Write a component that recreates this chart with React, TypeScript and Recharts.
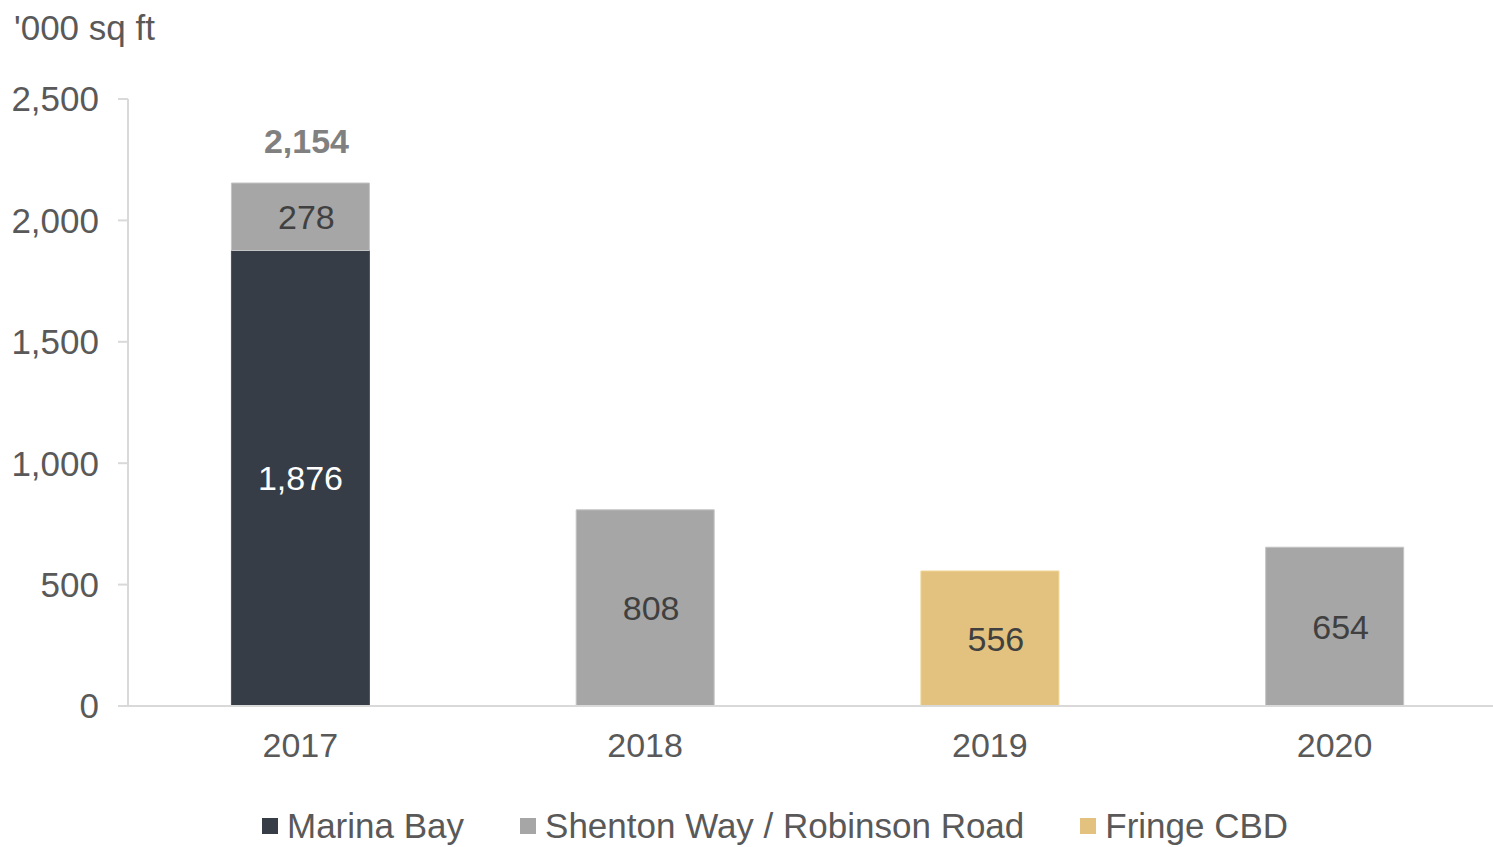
import React from 'react';
import { BarChart, Bar, XAxis, YAxis, Legend, LabelList } from 'recharts';

const years = ['2017', '2018', '2019', '2020'];
const marinaBay = [1876, null, null, null];
const shentonRobinson = [278, 808, null, 654];
const fringeCBD = [null, null, 556, null];
const totals = [2154, null, null, null];
const yTicks = [0, 500, 1000, 1500, 2000, 2500];
const seriesNames = ['Marina Bay', 'Shenton Way / Robinson Road', 'Fringe CBD'];

const FONT = '"Liberation Sans", Arial, sans-serif';

const data = years.map((y, i) => ({
  year: y,
  marina: marinaBay[i],
  shenton: shentonRobinson[i],
  fringe: fringeCBD[i],
  total: totals[i],
}));

const fmt = (v: any) => (v === null || v === undefined ? '' : Number(v).toLocaleString('en-US'));

const LegendContent = (props: any) => {
  const payload = [...(props.payload || [])].sort(
    (a: any, b: any) => seriesNames.indexOf(a.value) - seriesNames.indexOf(b.value)
  );
  return (
    <div style={{ display: 'flex', alignItems: 'center', fontFamily: FONT, fontSize: 35, color: '#595959', height: 40, whiteSpace: 'nowrap' }}>
      {payload.map((p: any, i: number) => (
        <div key={i} style={{ display: 'flex', alignItems: 'center', marginRight: 56 }}>
          <span style={{ display: 'inline-block', width: 16, height: 16, background: p.color, marginRight: 9 }} />
          <span>{p.value}</span>
        </div>
      ))}
    </div>
  );
};

export default function App() {
  return (
    <div style={{ position: 'absolute', left: 0, top: 0, width: 1493, height: 847, overflow: 'hidden', background: '#fff' }}>
      <div style={{ position: 'absolute', left: 14, top: 11, fontFamily: FONT, fontSize: 35, lineHeight: '34px', color: '#595959', zIndex: 2 }}>
        '000 sq ft
      </div>
      <BarChart
        width={1520}
        height={847}
        data={data}
        margin={{ top: 99, right: 13, left: 18, bottom: 41 }}
        barCategoryGap="30%"
      >
        <XAxis
          dataKey="year"
          height={60}
          tickLine={false}
          tickSize={0}
          tickMargin={27}
          axisLine={{ stroke: '#d9d9d9', strokeWidth: 2 }}
          tick={{ fill: '#595959', fontSize: 34, fontFamily: FONT }}
        />
        <YAxis
          width={110}
          domain={[0, 2500]}
          ticks={yTicks}
          tickFormatter={fmt}
          tickSize={10}
          tickMargin={19}
          axisLine={{ stroke: '#d9d9d9', strokeWidth: 2 }}
          tickLine={{ stroke: '#d9d9d9', strokeWidth: 2 }}
          tick={{ fill: '#595959', fontSize: 35, fontFamily: FONT }}
        />
        <Legend verticalAlign="bottom" wrapperStyle={{ left: 262, top: 806, width: 'auto' }} content={<LegendContent />} />
        <Bar dataKey="marina" name="Marina Bay" stackId="a" fill="#363d47" stroke="#4a525c" strokeWidth={1} isAnimationActive={false}>
          <LabelList dataKey="marina" position="center" formatter={fmt} fill="#ffffff" fontSize={34} fontFamily={FONT} />
        </Bar>
        <Bar dataKey="shenton" name="Shenton Way / Robinson Road" stackId="a" fill="#a6a6a6" stroke="#c4c4c4" strokeWidth={1} isAnimationActive={false}>
          <LabelList dataKey="shenton" position="center" formatter={fmt} fill="#404040" fontSize={34} fontFamily={FONT} dx={6} />
          <LabelList dataKey="total" position="top" offset={30} formatter={fmt} fill="#808080" fontSize={34} fontWeight="bold" fontFamily={FONT} dx={6} />
        </Bar>
        <Bar dataKey="fringe" name="Fringe CBD" stackId="a" fill="#e2c27e" stroke="#f0d594" strokeWidth={1} isAnimationActive={false}>
          <LabelList dataKey="fringe" position="center" formatter={fmt} fill="#404040" fontSize={34} fontFamily={FONT} dx={6} />
        </Bar>
      </BarChart>
    </div>
  );
}
